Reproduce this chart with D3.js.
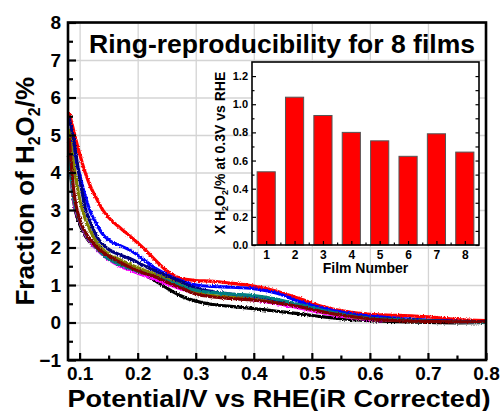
<!DOCTYPE html>
<html>
<head>
<meta charset="utf-8">
<script src="https://cdn.jsdelivr.net/npm/d3@7"></script>
<style>
  body { margin: 0; background: #fff; }
  text { font-family: "Liberation Sans", Arial, sans-serif; font-weight: bold; fill: #000; }
</style>
</head>
<body>
<script>
// Potential (V vs RHE) sample points
const potential = [0.082, 0.09, 0.10, 0.11, 0.12, 0.13, 0.14, 0.15, 0.17, 0.19, 0.21, 0.23, 0.25, 0.27,
  0.30, 0.33, 0.36, 0.40, 0.44, 0.48, 0.52, 0.56, 0.60, 0.65, 0.70, 0.75, 0.80];

// H2O2 fraction (%) for each film, same order as potential
const filmBlack = [4.4, 3.2, 2.62, 2.3, 2.1, 1.97, 1.85, 1.73, 1.54, 1.39, 1.27, 1.12, 0.92, 0.74,
  0.57, 0.48, 0.43, 0.37, 0.3, 0.23, 0.15, 0.09, 0.05, 0.02, 0.0, -0.01, 0.0];
const filmRed = [5.6, 5.1, 4.5, 3.98, 3.58, 3.28, 3.0, 2.8, 2.52, 2.26, 1.98, 1.67, 1.38, 1.2,
  1.12, 1.1, 1.05, 0.97, 0.83, 0.63, 0.42, 0.29, 0.22, 0.19, 0.15, 0.08, 0.05];
const filmBlue = [5.1, 4.55, 3.95, 3.35, 2.9, 2.6, 2.35, 2.2, 2.05, 1.9, 1.68, 1.45, 1.28, 1.14,
  1.0, 0.96, 0.94, 0.9, 0.78, 0.55, 0.37, 0.25, 0.17, 0.11, 0.06, 0.03, 0.0];
const filmMagenta = [4.6, 3.25, 2.7, 2.35, 2.12, 1.95, 1.8, 1.68, 1.5, 1.38, 1.26, 1.15, 1.03, 0.92,
  0.78, 0.7, 0.66, 0.6, 0.5, 0.38, 0.25, 0.15, 0.08, 0.06, 0.04, 0.02, 0.0];
const filmOlive = [5.17, 4.2, 3.3, 2.75, 2.4, 2.12, 1.95, 1.82, 1.67, 1.53, 1.4, 1.28, 1.18, 1.05,
  0.8, 0.72, 0.68, 0.62, 0.54, 0.42, 0.28, 0.17, 0.1, 0.06, 0.04, 0.02, 0.01];
const filmNavy = [5.45, 4.85, 3.85, 3.05, 2.62, 2.28, 2.08, 1.95, 1.8, 1.68, 1.52, 1.38, 1.25, 1.12,
  0.92, 0.82, 0.76, 0.7, 0.6, 0.45, 0.3, 0.2, 0.12, 0.08, 0.05, 0.03, 0.02];
const filmTeal = [4.4, 3.3, 2.72, 2.38, 2.15, 1.97, 1.82, 1.7, 1.53, 1.42, 1.32, 1.22, 1.12, 1.0,
  0.86, 0.8, 0.76, 0.72, 0.62, 0.47, 0.32, 0.2, 0.12, 0.07, 0.04, 0.02, 0.0];
const filmWine = [4.93, 3.5, 2.75, 2.4, 2.18, 2.0, 1.87, 1.77, 1.6, 1.45, 1.32, 1.22, 1.08, 0.95,
  0.76, 0.68, 0.64, 0.6, 0.52, 0.42, 0.28, 0.18, 0.1, 0.05, 0.03, 0.02, 0.02];

const curves = [
  { values: filmBlack, color: "#000000" },
  { values: filmRed, color: "#ff0000" },
  { values: filmBlue, color: "#0000ff" },
  { values: filmMagenta, color: "#ff00ff" },
  { values: filmOlive, color: "#808000" },
  { values: filmNavy, color: "#000080" },
  { values: filmTeal, color: "#008080" },
  { values: filmWine, color: "#800000" }
];

// Inset: X H2O2 at 0.3 V for each film
const films = [1, 2, 3, 4, 5, 6, 7, 8];
const fractionAt03 = [0.52, 1.05, 0.92, 0.80, 0.74, 0.63, 0.79, 0.66];

const xTicks = [0.1, 0.2, 0.3, 0.4, 0.5, 0.6, 0.7, 0.8];
const xMinor = [0.15, 0.25, 0.35, 0.45, 0.55, 0.65, 0.75];
const yTicks = [-1, 0, 1, 2, 3, 4, 5, 6, 7, 8];
const yMinor = [-0.5, 0.5, 1.5, 2.5, 3.5, 4.5, 5.5, 6.5, 7.5];
const insetYTicks = [0.0, 0.2, 0.4, 0.6, 0.8, 1.0, 1.2];
const insetYMinor = [0.1, 0.3, 0.5, 0.7, 0.9, 1.1];
const insetXMinor = [1.5, 2.5, 3.5, 4.5, 5.5, 6.5, 7.5];

const W = 500, H = 411;
const plot = { left: 68, right: 486, top: 22.5, bottom: 360 };

const svg = d3.select("body").append("svg")
  .attr("width", W)
  .attr("height", H);

svg.append("rect").attr("width", W).attr("height", H).attr("fill", "#fff");

// roughness filter to mimic the noisy measured traces
const defs = svg.append("defs");
const rough = defs.append("filter").attr("id", "rough")
  .attr("x", "-5%").attr("y", "-5%").attr("width", "110%").attr("height", "110%");
rough.append("feTurbulence").attr("type", "fractalNoise")
  .attr("baseFrequency", "0.8").attr("numOctaves", 2).attr("seed", 3).attr("result", "noise");
rough.append("feDisplacementMap").attr("in", "SourceGraphic").attr("in2", "noise")
  .attr("scale", 3).attr("xChannelSelector", "R").attr("yChannelSelector", "G");

const x = d3.scaleLinear().domain([0.08, 0.8]).range([plot.left, plot.right]);
const y = d3.scaleLinear().domain([-1, 8]).range([plot.bottom, plot.top]);

// Gridlines
svg.append("g")
  .attr("transform", `translate(0,${plot.bottom})`)
  .call(d3.axisBottom(x).tickValues(xTicks).tickSize(-(plot.bottom - plot.top)).tickFormat(""))
  .call((g) => g.select(".domain").remove())
  .selectAll("line").attr("stroke", "#d4d4d4").attr("stroke-width", 1.3);

svg.append("g")
  .attr("transform", `translate(${plot.left},0)`)
  .call(d3.axisLeft(y).tickValues(yTicks).tickSize(-(plot.right - plot.left)).tickFormat(""))
  .call((g) => g.select(".domain").remove())
  .selectAll("line").attr("stroke", "#d4d4d4").attr("stroke-width", 1.3);

// Curves
const line = d3.line()
  .x((d) => x(d[0]))
  .y((d) => y(d[1]))
  .curve(d3.curveMonotoneX);

const curveGroup = svg.append("g").attr("filter", "url(#rough)");
curves.forEach((c) => {
  curveGroup.append("path")
    .datum(potential.map((p, i) => [p, c.values[i]]))
    .attr("fill", "none")
    .attr("stroke", c.color)
    .attr("stroke-width", 3.2)
    .attr("stroke-linejoin", "round")
    .attr("d", line);
});

// Main axes (inward ticks)
const xAxis = svg.append("g")
  .attr("transform", `translate(0,${plot.bottom})`)
  .call(d3.axisBottom(x).tickValues(xTicks).tickSize(-7).tickPadding(7).tickFormat(d3.format(".1f")));
xAxis.select(".domain").remove();
xAxis.selectAll("line").attr("stroke-width", 2.2);
xAxis.selectAll("text").style("font-size", "19px");

svg.append("g")
  .attr("transform", `translate(0,${plot.bottom})`)
  .call(d3.axisBottom(x).tickValues(xMinor).tickSize(-4.5).tickFormat(""))
  .call((g) => g.select(".domain").remove())
  .selectAll("line").attr("stroke-width", 2.2);

const yAxis = svg.append("g")
  .attr("transform", `translate(${plot.left},0)`)
  .call(d3.axisLeft(y).tickValues(yTicks).tickSize(-8).tickPadding(7).tickFormat(d3.format("d")));
yAxis.select(".domain").remove();
yAxis.selectAll("line").attr("stroke-width", 2.2);
yAxis.selectAll("text").style("font-size", "19px");

svg.append("g")
  .attr("transform", `translate(${plot.left},0)`)
  .call(d3.axisLeft(y).tickValues(yMinor).tickSize(-5).tickFormat(""))
  .call((g) => g.select(".domain").remove())
  .selectAll("line").attr("stroke-width", 2.2);

// Frame
svg.append("rect")
  .attr("x", plot.left).attr("y", plot.top)
  .attr("width", plot.right - plot.left).attr("height", plot.bottom - plot.top)
  .attr("fill", "none").attr("stroke", "#000").attr("stroke-width", 2.6);

// Title
svg.append("text")
  .attr("x", 89).attr("y", 53)
  .attr("textLength", 386).attr("lengthAdjust", "spacingAndGlyphs")
  .style("font-size", "26px")
  .text("Ring-reproducibility for 8 films");

// Axis labels
svg.append("text")
  .attr("x", (plot.left + plot.right) / 2 + 2).attr("y", 407)
  .attr("text-anchor", "middle")
  .attr("textLength", 423).attr("lengthAdjust", "spacingAndGlyphs")
  .style("font-size", "23px")
  .text("Potential/V vs RHE(iR Corrected)");

const yLabel = svg.append("text")
  .attr("transform", `translate(34,${(plot.top + plot.bottom) / 2}) rotate(-90)`)
  .attr("text-anchor", "middle")
  .style("font-size", "26px");
yLabel.append("tspan").text("Fraction of H");
yLabel.append("tspan").attr("dy", 6).style("font-size", "16px").text("2");
yLabel.append("tspan").attr("dy", -6).text("O");
yLabel.append("tspan").attr("dy", 6).style("font-size", "16px").text("2");
yLabel.append("tspan").attr("dy", -6).text("/%");

// ---------- Inset bar chart ----------
const inset = { left: 252, right: 479, top: 62, bottom: 245 };
const ix = d3.scaleLinear().domain([0.5, 8.5]).range([inset.left, inset.right]);
const iy = d3.scaleLinear().domain([0, 1.3]).range([inset.bottom, inset.top]);
const barW = ix(1.32) - ix(0.68);

svg.append("rect")
  .attr("x", inset.left).attr("y", inset.top)
  .attr("width", inset.right - inset.left).attr("height", inset.bottom - inset.top)
  .attr("fill", "#fff");

const iyAxis = svg.append("g")
  .attr("transform", `translate(${inset.left},0)`)
  .call(d3.axisLeft(iy).tickValues(insetYTicks).tickSize(-4).tickPadding(4).tickFormat(d3.format(".1f")));
iyAxis.select(".domain").remove();
iyAxis.selectAll("line").attr("stroke-width", 1.2);
iyAxis.selectAll("text").style("font-size", "11px");

svg.append("g")
  .attr("transform", `translate(${inset.left},0)`)
  .call(d3.axisLeft(iy).tickValues(insetYMinor).tickSize(-2.5).tickFormat(""))
  .call((g) => g.select(".domain").remove())
  .selectAll("line").attr("stroke-width", 1.2);

svg.append("g")
  .attr("transform", `translate(${inset.right},0)`)
  .call(d3.axisRight(iy).tickValues(insetYTicks.concat(insetYMinor)).tickSize(-3.5).tickFormat(""))
  .call((g) => g.select(".domain").remove())
  .selectAll("line").attr("stroke-width", 1.2);

svg.selectAll(".bar")
  .data(films)
  .enter()
  .append("rect")
  .attr("class", "bar")
  .attr("x", (d) => ix(d) - barW / 2)
  .attr("y", (d, i) => iy(fractionAt03[i]))
  .attr("width", barW)
  .attr("height", (d, i) => iy(0) - iy(fractionAt03[i]))
  .attr("fill", "#ff0000")
  .attr("stroke", "#555")
  .attr("stroke-width", 1);

const ixAxis = svg.append("g")
  .attr("transform", `translate(0,${inset.bottom})`)
  .call(d3.axisBottom(ix).tickValues(films).tickSize(-4).tickPadding(5).tickFormat(d3.format("d")));
ixAxis.select(".domain").remove();
ixAxis.selectAll("line").attr("stroke-width", 1.2);
ixAxis.selectAll("text").style("font-size", "12px");

svg.append("g")
  .attr("transform", `translate(0,${inset.bottom})`)
  .call(d3.axisBottom(ix).tickValues(insetXMinor).tickSize(-2.5).tickFormat(""))
  .call((g) => g.select(".domain").remove())
  .selectAll("line").attr("stroke-width", 1.2);

svg.append("rect")
  .attr("x", inset.left).attr("y", inset.top)
  .attr("width", inset.right - inset.left).attr("height", inset.bottom - inset.top)
  .attr("fill", "none").attr("stroke", "#000").attr("stroke-width", 1.6);

svg.append("text")
  .attr("x", (inset.left + inset.right) / 2).attr("y", 273)
  .attr("text-anchor", "middle")
  .style("font-size", "14px")
  .text("Film Number");

const iyLabel = svg.append("text")
  .attr("transform", `translate(225,153) rotate(-90)`)
  .attr("text-anchor", "middle")
  .style("font-size", "14px");
iyLabel.append("tspan").text("X H");
iyLabel.append("tspan").attr("dy", 3).style("font-size", "9px").text("2");
iyLabel.append("tspan").attr("dy", -3).text("O");
iyLabel.append("tspan").attr("dy", 3).style("font-size", "9px").text("2");
iyLabel.append("tspan").attr("dy", -3).text("/% at 0.3V vs RHE");
</script>
</body>
</html>
